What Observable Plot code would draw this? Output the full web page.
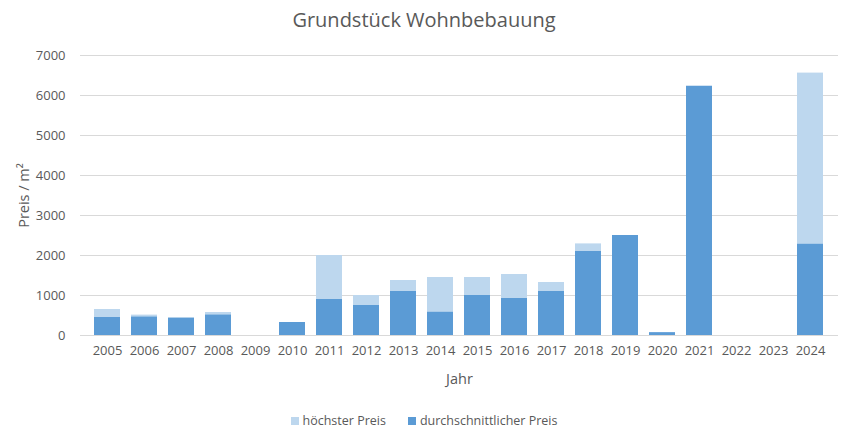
<!DOCTYPE html>
<html>
<head>
<meta charset="utf-8">
<script src="https://cdn.jsdelivr.net/npm/d3@7"></script>
<script src="https://cdn.jsdelivr.net/npm/@observablehq/plot@0.6"></script>
<style>
  html, body { margin: 0; padding: 0; background: #fff; }
  body { width: 848px; height: 444px; overflow: hidden; font-family: "Open Sans", sans-serif; color: #595959; }
  #title { height: 40px; line-height: 40px; text-align: center; font-size: 20px; color: #595959; }
  #legend { display: flex; justify-content: center; gap: 22px; font-size: 12.5px; color: #595959; margin-top: 12px; }
  #legend span.item { display: flex; align-items: center; }
  #legend span.sw { display: inline-block; width: 8px; height: 8px; margin-right: 4px; }
</style>
</head>
<body>
<div id="title">Grundstück Wohnbebauung</div>
<div id="chart"></div>
<div id="legend"></div>
<script>
const years = ["2005","2006","2007","2008","2009","2010","2011","2012","2013","2014","2015","2016","2017","2018","2019","2020","2021","2022","2023","2024"];
const maxPrice = [650, 510, 445, 575, null, 325, 2000, 1000, 1375, 1450, 1450, 1525, 1325, 2290, 2500, 70, 6230, null, null, 6560];
const avgPrice = [450, 460, 430, 510, null, 325, 900, 750, 1100, 580, 1000, 925, 1100, 2100, 2500, 70, 6230, null, null, 2280];
const seriesNames = ["höchster Preis", "durchschnittlicher Preis"];
const seriesColors = ["#BDD7EE", "#5B9BD5"];
const yTicks = [0, 1000, 2000, 3000, 4000, 5000, 6000, 7000];

const maxData = years.map((y, i) => ({year: y, value: maxPrice[i]})).filter(d => d.value != null);
const avgData = years.map((y, i) => ({year: y, value: avgPrice[i]})).filter(d => d.value != null);

const chart = Plot.plot({
  width: 848,
  height: 360,
  marginLeft: 80,
  marginRight: 10,
  marginTop: 15,
  marginBottom: 65,
  style: { fontFamily: "'Open Sans', sans-serif", fontSize: "13px", color: "#595959", background: "#fff" },
  x: { domain: years, paddingInner: 0.29, paddingOuter: 0.145, label: "Jahr", labelAnchor: "center", labelOffset: 48, tickSize: 0, tickPadding: 10 },
  y: { domain: [0, 7000], ticks: yTicks, tickFormat: d => String(d), label: "Preis / m²", labelAnchor: "center", labelArrow: "none", labelOffset: 62, tickSize: 0, tickPadding: 15 },
  marks: [
    Plot.gridY(yTicks, { stroke: "#d9d9d9", strokeOpacity: 1 }),
    Plot.barY(maxData, { x: "year", y: "value", fill: seriesColors[0] }),
    Plot.barY(avgData, { x: "year", y: "value", fill: seriesColors[1] })
  ]
});
chart.querySelectorAll('[aria-label="y-axis label"], [aria-label="x-axis label"]').forEach(g => {
  g.setAttribute("font-size", "14.5px");
  g.style.fontSize = "14.5px";
});
document.getElementById("chart").appendChild(chart);

const legend = document.getElementById("legend");
seriesNames.forEach((n, i) => {
  const item = document.createElement("span");
  item.className = "item";
  const sw = document.createElement("span");
  sw.className = "sw";
  sw.style.background = seriesColors[i];
  item.appendChild(sw);
  item.appendChild(document.createTextNode(n));
  legend.appendChild(item);
});
</script>
</body>
</html>
